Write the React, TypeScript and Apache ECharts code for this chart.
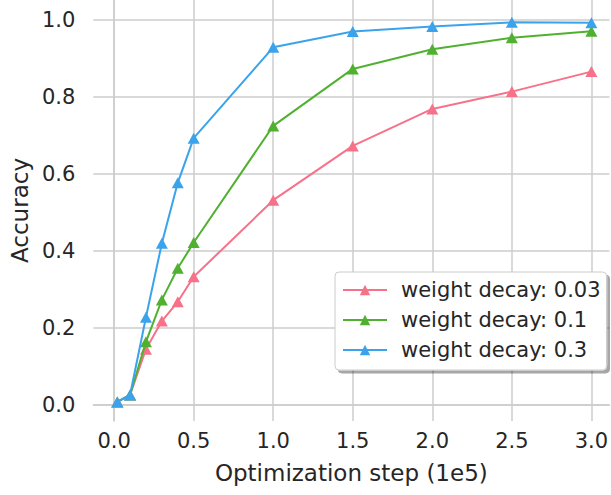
import React, { useEffect, useRef } from "react";
import * as echarts from "echarts";

const steps = [0.02, 0.1, 0.2, 0.3, 0.4, 0.5, 1.0, 1.5, 2.0, 2.5, 3.0];
const wd003 = [0.008, 0.026, 0.145, 0.218, 0.268, 0.333, 0.532, 0.673, 0.769, 0.814, 0.866];
const wd01 = [0.008, 0.026, 0.164, 0.273, 0.355, 0.422, 0.725, 0.873, 0.924, 0.954, 0.971];
const wd03 = [0.008, 0.026, 0.228, 0.42, 0.577, 0.693, 0.929, 0.97, 0.983, 0.994, 0.993];
const seriesNames = ["weight decay: 0.03", "weight decay: 0.1", "weight decay: 0.3"];
const colors = ["#f77189", "#50b131", "#3ba3ec"];
const xTicks = [0, 0.5, 1.0, 1.5, 2.0, 2.5, 3.0];
const yTicks = [0, 0.2, 0.4, 0.6, 0.8, 1.0];

export default function App() {
  const ref = useRef<HTMLDivElement>(null);
  useEffect(() => {
    if (!ref.current) return;
    const chart = echarts.init(ref.current, undefined, { renderer: "svg" });
    const font = "DejaVu Sans";
    const all = [wd003, wd01, wd03];
    chart.setOption({
      animation: false,
      backgroundColor: "#ffffff",
      grid: { left: 91, right: 0, top: 0, bottom: 74 },
      xAxis: {
        type: "value",
        min: -0.131,
        max: 3.113,
        name: "Optimization step (1e5)",
        nameLocation: "middle",
        nameGap: 40,
        nameTextStyle: { fontFamily: font, fontSize: 23, color: "#262626" },
        axisLine: { show: true, lineStyle: { color: "#cccccc", width: 1.5 } },
        axisTick: { show: false, customValues: xTicks },
        axisLabel: {
          customValues: xTicks,
          fontFamily: font,
          fontSize: 21,
          color: "#262626",
          margin: 9,
          formatter: (v: number) => v.toFixed(1),
        },
        splitLine: { show: true, lineStyle: { color: "#cccccc", width: 1.5 } },
      },
      yAxis: {
        type: "value",
        min: -0.0416,
        max: 1.052,
        name: "Accuracy",
        nameLocation: "middle",
        nameRotate: 90,
        nameGap: 57,
        nameTextStyle: { fontFamily: font, fontSize: 23, color: "#262626" },
        axisLine: { show: true, lineStyle: { color: "#cccccc", width: 1.5 } },
        axisTick: { show: false, customValues: yTicks },
        axisLabel: {
          customValues: yTicks,
          fontFamily: font,
          fontSize: 21,
          color: "#262626",
          margin: 18,
          formatter: (v: number) => v.toFixed(1),
        },
        splitLine: { show: true, lineStyle: { color: "#cccccc", width: 1.5 } },
      },
      legend: {
        orient: "vertical",
        left: 335,
        top: 272,
        padding: [7, 6, 9, 7],
        itemGap: 8,
        itemWidth: 44,
        itemHeight: 13,
        backgroundColor: "#ffffff",
        borderColor: "#cccccc",
        borderWidth: 1,
        borderRadius: 4,
        shadowColor: "rgba(0,0,0,0.35)",
        shadowBlur: 0,
        shadowOffsetX: 3,
        shadowOffsetY: 3,
        textStyle: {
          fontFamily: font,
          fontSize: 21,
          color: "#262626",
          lineHeight: 22,
          padding: [0, 0, 0, 9],
        },
        data: seriesNames,
      },
      series: seriesNames.map((name, i) => ({
        name,
        type: "line",
        data: steps.map((s, j) => [s, all[i][j]]),
        symbol: "triangle",
        symbolSize: [12, 11],
        showSymbol: true,
        lineStyle: { color: colors[i], width: 2 },
        itemStyle: { color: colors[i] },
        z: 2 + i,
      })),
    });
    return () => chart.dispose();
  }, []);
  return <div ref={ref} style={{ width: 611, height: 495, position: "absolute", left: 0, top: 0 }} />;
}
